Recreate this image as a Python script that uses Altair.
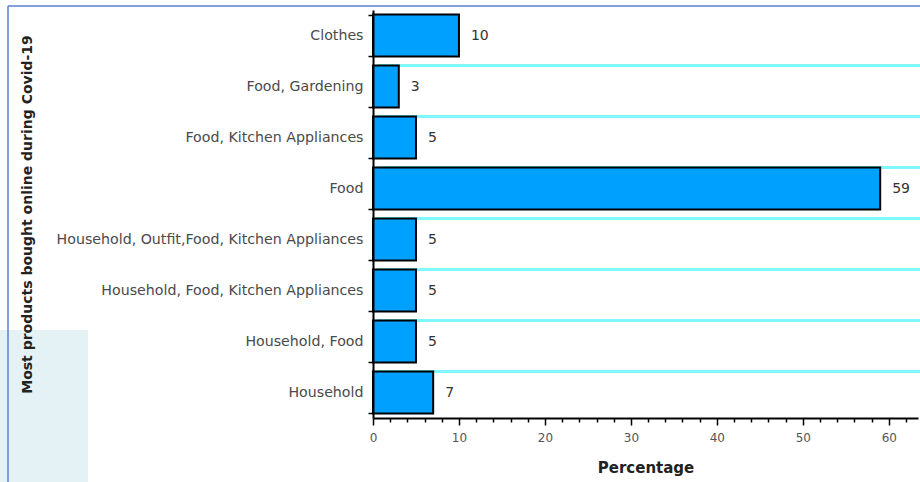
import altair as alt
import pandas as pd

categories = [
    "Clothes",
    "Food, Gardening",
    "Food, Kitchen Appliances",
    "Food",
    "Household, Outfit,Food, Kitchen Appliances",
    "Household, Food, Kitchen Appliances",
    "Household, Food",
    "Household",
]
percentages = [10, 3, 5, 59, 5, 5, 5, 7]
x_tick_values = list(range(0, 64, 2))

df = pd.DataFrame({"category": categories, "pct": percentages})
one = pd.DataFrame({"a": [0]})

FONT = "DejaVu Sans"
W, H = 545, 408

y_scale = alt.Scale(paddingInner=0.18, paddingOuter=0.09)
x_scale = alt.Scale(domain=[0, 63.4], nice=False, zero=True)

y_axis = alt.Axis(
    title="Most products bought online during Covid-19",
    titleFont=FONT, titleFontSize=14, titleFontWeight="bold", titleColor="#222222",
    titleX=-339, titleY=H / 2, titleAngle=270, titleBaseline="bottom", titleAlign="center",
    labelFont=FONT, labelFontSize=14.2, labelColor="#4a4a4a", labelLimit=400, labelPadding=5,
    tickBand="extent", tickSize=5, tickColor="black", tickWidth=1.5,
    domainColor="black", domainWidth=2, grid=False, zindex=1,
)
x_axis = alt.Axis(
    title="Percentage", titleFont=FONT, titleFontSize=15, titleFontWeight="bold",
    titleColor="#222222", titlePadding=17,
    values=x_tick_values,
    labelExpr="datum.value % 10 === 0 ? datum.label : ''",
    labelFont=FONT, labelFontSize=12, labelColor="#555555", labelPadding=7,
    tickSize={"condition": {"test": "datum.value % 10 === 0", "value": 7}, "value": 4},
    tickColor="black", tickWidth=1.5,
    domainColor="black", domainWidth=2, grid=False, labelFlush=False, zindex=1,
)

# decorative frame of the original picture
bg_rect = alt.Chart(one).mark_rect(color="#e4f2f5").encode(
    x=alt.value(-373), x2=alt.value(-285), y=alt.value(320), y2=alt.value(472)
)
frame_top = alt.Chart(one).mark_rule(color="#5a7fd6", strokeWidth=1.5).encode(
    x=alt.value(-365), x2=alt.value(W + 2), y=alt.value(-4)
)
frame_left = alt.Chart(one).mark_rule(color="#5a7fd6", strokeWidth=1.5).encode(
    x=alt.value(-365), y=alt.value(-4), y2=alt.value(472)
)

grid = alt.Chart(df).transform_filter(
    alt.datum.category != categories[0]
).mark_rule(color="#7ff7ff", strokeWidth=3).encode(
    y=alt.Y("category:N", sort=categories, bandPosition=0, scale=y_scale, axis=y_axis),
    x=alt.value(4), x2=alt.value(W + 2),
)

bars = alt.Chart(df).mark_bar(color="#00a0ff", stroke="black", strokeWidth=2).encode(
    y=alt.Y("category:N", sort=categories, scale=y_scale, axis=y_axis),
    x=alt.X("pct:Q", scale=x_scale, axis=x_axis),
)

labels = alt.Chart(df).mark_text(
    align="left", baseline="middle", dx=12, font=FONT, fontSize=14, color="#333333"
).encode(
    y=alt.Y("category:N", sort=categories, scale=y_scale, axis=y_axis),
    x=alt.X("pct:Q", scale=x_scale, axis=x_axis),
    text=alt.Text("pct:Q"),
)

chart = alt.layer(bg_rect, frame_top, frame_left, grid, bars, labels).properties(
    width=W, height=H,
    padding={"left": 373, "top": 10, "right": 2, "bottom": 64},
    autosize=alt.AutoSizeParams(type="none"),
    background="white",
).configure_view(strokeWidth=0)

chart.save("out.html", embed_options={"renderer": "svg", "actions": False})
